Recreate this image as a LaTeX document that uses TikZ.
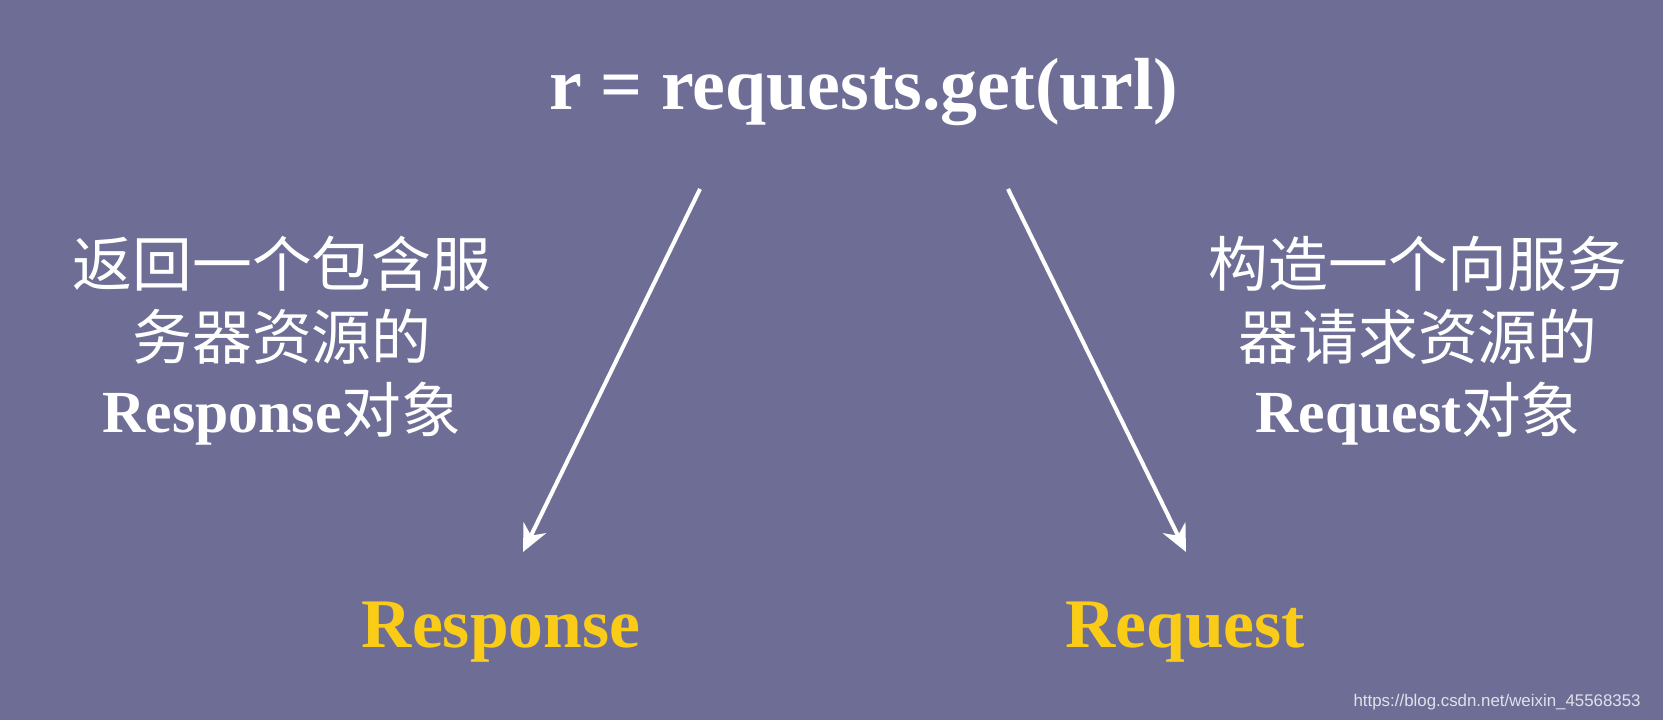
\documentclass[tikz,border=0pt]{standalone}
\usepackage{fontspec}
\setmainfont{Liberation Serif}
\newfontfamily\cjk{Noto Sans CJK SC}
\newfontfamily\wmfont{Liberation Sans}
\usetikzlibrary{arrows.meta}
\definecolor{mybg}{RGB}{110,109,150}
\definecolor{myyellow}{RGB}{250,204,24}
\definecolor{mywm}{RGB}{225,225,235}

\begin{document}
\begin{tikzpicture}[
    title/.style={text=white, font=\fontsize{21}{25}\selectfont\bfseries},
    note/.style={text=white, align=center, font=\fontsize{17}{20.8}\selectfont\cjk},
    result/.style={text=myyellow, font=\fontsize{19.8}{24}\selectfont\bfseries},
    arrow/.style={draw=white, line width=1.15pt, -{Stealth[length=0.27cm, width=0.25cm]}}
]
    \fill[mybg] (0, 0) rectangle (16.63, 7.20);
    \useasboundingbox (0, 0) rectangle (16.63, 7.20);
    % Title
    \node[title, anchor=base] (Call) at (8.64, 6.10) {r = requests.get(url)};
    % Results
    \node[result, anchor=base] (Resp) at (5.01, 0.72) {Response};
    \node[result, anchor=base] (Req) at (11.85, 0.72) {Request};
    % Notes
    \node[note] (RespNote) at (2.82, 3.79) {
        返回一个包含服\\
        务器资源的\\
        {\rmfamily\bfseries Response}对象
    };
    \node[note] (ReqNote) at (14.18, 3.79) {
        构造一个向服务\\
        器请求资源的\\
        {\rmfamily\bfseries Request}对象
    };
    % Arrows
    \coordinate (RespFrom) at (7.00, 5.31);
    \coordinate (RespTo) at (5.23, 1.68);
    \coordinate (ReqFrom) at (10.08, 5.31);
    \coordinate (ReqTo) at (11.86, 1.68);
    \draw[arrow] (RespFrom) -- (RespTo);
    \draw[arrow] (ReqFrom) -- (ReqTo);
    % Watermark
    \node[anchor=base east, text=mywm, font=\wmfont\fontsize{4.8}{5.5}\selectfont] (Mark)
        at (16.53, 0.13) {https://blog.csdn.net/weixin\_45568353};
\end{tikzpicture}
\end{document}
